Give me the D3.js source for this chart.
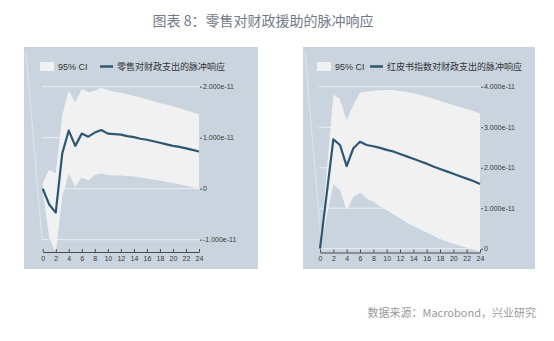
<!DOCTYPE html>
<html><head><meta charset="utf-8">
<script src="https://cdn.jsdelivr.net/npm/d3@7"></script>
<style>
html,body{margin:0;padding:0;background:#fff;}
svg{display:block;font-family:"Noto Sans CJK SC","Noto Sans",sans-serif;}
</style></head>
<body><svg id="c" width="554" height="341"></svg>
<script>
const periods = d3.range(0, 25);
// Panel 1: retail response (units of 1e-11)
const retailLine = [0,-0.31,-0.47,0.69,1.14,0.84,1.08,1.02,1.10,1.15,1.08,1.07,1.06,1.03,1.01,0.98,0.96,0.93,0.90,0.87,0.84,0.82,0.79,0.76,0.73];
const retailUpper = [0.10,0.37,0.30,1.44,1.92,1.69,1.95,1.89,1.92,1.98,1.93,1.90,1.88,1.85,1.82,1.79,1.75,1.72,1.68,1.65,1.61,1.58,1.54,1.50,1.46];
const retailLower = [-0.05,-0.94,-1.27,-0.16,0.30,0.04,0.22,0.16,0.27,0.30,0.27,0.26,0.26,0.25,0.24,0.22,0.20,0.18,0.16,0.13,0.11,0.08,0.06,0.03,0.00];
// Panel 2: beige book response
const beigeLine = [0,1.35,2.70,2.56,2.04,2.48,2.64,2.56,2.53,2.49,2.44,2.40,2.34,2.28,2.22,2.16,2.10,2.03,1.97,1.91,1.85,1.79,1.73,1.67,1.60];
const beigeUpper = [0,1.90,3.81,3.69,3.16,3.55,3.85,3.88,3.90,3.91,3.92,3.92,3.89,3.87,3.84,3.80,3.75,3.70,3.65,3.60,3.55,3.50,3.45,3.40,3.34];
const beigeLower = [0,0.80,1.59,1.45,0.95,1.28,1.38,1.24,1.16,1.05,0.95,0.85,0.75,0.65,0.56,0.48,0.40,0.32,0.24,0.18,0.12,0.07,0.03,-0.02,-0.07];
const xTicks = d3.range(0, 25, 2);
const retailTicks = [-1, 0, 1, 2];
const beigeTicks = [0, 1, 2, 3, 4];
const fmt = v => v === 0 ? "0" : (v < 0 ? "-" : "") + Math.abs(v).toFixed(3) + "e-11";

const svg = d3.select("#c");
svg.append("text").attr("x", 263).attr("y", 26).attr("text-anchor", "middle")
  .attr("font-size", 14).attr("fill", "#737985").text("图表 8：零售对财政援助的脉冲响应");
svg.append("text").attr("x", 536).attr("y", 317).attr("text-anchor", "end")
  .attr("font-size", 11).attr("fill", "#9a9a9a").text("数据来源：Macrobond，兴业研究");

function panel(o) {
  const g = svg.append("g");
  g.append("rect").attr("x", o.px).attr("y", 47).attr("width", o.pw).attr("height", 222).attr("fill", "#c9d4df");
  const x = d3.scaleLinear().domain([0, 24]).range(o.xr);
  const y = d3.scaleLinear().domain(o.yd).range(o.yr);
  // faint diagonal artifact
  g.append("line").attr("x1", o.px + 2).attr("y1", 52).attr("x2", o.px + 18).attr("y2", 240)
    .attr("stroke", "#ffffff").attr("stroke-opacity", 0.5).attr("stroke-width", 0.8);
  // grid
  g.selectAll(".grid").data(o.ticks).join("line")
    .attr("x1", o.xr[0] - 1).attr("x2", o.xr[1] + 1)
    .attr("y1", d => y(d)).attr("y2", d => y(d))
    .attr("stroke", "#e9eef3").attr("stroke-width", 1);
  // band
  const area = d3.area().x((d, i) => x(periods[i])).y0((d, i) => y(o.lower[i])).y1((d, i) => y(o.upper[i]));
  g.append("path").datum(o.upper).attr("d", area).attr("fill", "#f1f1f1");
  // line
  const line = d3.line().x((d, i) => x(periods[i])).y(d => y(d));
  g.append("path").datum(o.line).attr("d", line).attr("fill", "none")
    .attr("stroke", "#2c5874").attr("stroke-width", 2.2).attr("stroke-linejoin", "round");
  // right axis
  const ya = d3.axisRight(y).tickValues(o.ticks).tickSize(2).tickPadding(1).tickFormat(fmt);
  const yg = g.append("g").attr("transform", `translate(${o.xr[1] + 1},0)`).call(ya);
  yg.select(".domain").remove();
  yg.selectAll("text").attr("font-size", 7).attr("fill", "#3a3a3a").attr("font-family", "Liberation Sans, Arial, sans-serif");
  yg.selectAll("line").attr("stroke", "#555");
  // bottom axis
  const xa = d3.axisBottom(x).tickValues(xTicks).tickSize(-3).tickPadding(4).tickSizeOuter(0);
  const xg = g.append("g").attr("transform", `translate(0,${o.ax})`).call(xa);
  xg.select(".domain").attr("stroke", "#4a4a4a");
  xg.selectAll("line").attr("stroke", "#4a4a4a");
  xg.selectAll("text").attr("font-size", 7).attr("fill", "#3a3a3a").attr("font-family", "Liberation Sans, Arial, sans-serif");
  // legend
  g.append("rect").attr("x", o.lx).attr("y", 62).attr("width", 14).attr("height", 9).attr("fill", "#f1f1f1");
  g.append("text").attr("x", o.lx + 18).attr("y", 70).attr("font-size", 9).attr("fill", "#333")
    .attr("font-family", "Liberation Sans, Arial, sans-serif").text("95% CI");
  g.append("line").attr("x1", o.lx2).attr("x2", o.lx2 + 13).attr("y1", 66.5).attr("y2", 66.5)
    .attr("stroke", "#2c5874").attr("stroke-width", 2.5);
  g.append("text").attr("x", o.lx2 + 17).attr("y", 70).attr("font-size", 9).attr("fill", "#333").text(o.name);
}

panel({px: 24, pw: 234, xr: [42.7, 199], yd: [-1, 2], yr: [239.7, 86.7], ticks: retailTicks, ax: 252,
  line: retailLine, upper: retailUpper, lower: retailLower, lx: 40, lx2: 100, name: "零售对财政支出的脉冲响应"});
panel({px: 303, pw: 232, xr: [320, 480], yd: [0, 4], yr: [248.7, 86.7], ticks: beigeTicks, ax: 252.5,
  line: beigeLine, upper: beigeUpper, lower: beigeLower, lx: 317, lx2: 370, name: "红皮书指数对财政支出的脉冲响应"});
</script></body></html>
